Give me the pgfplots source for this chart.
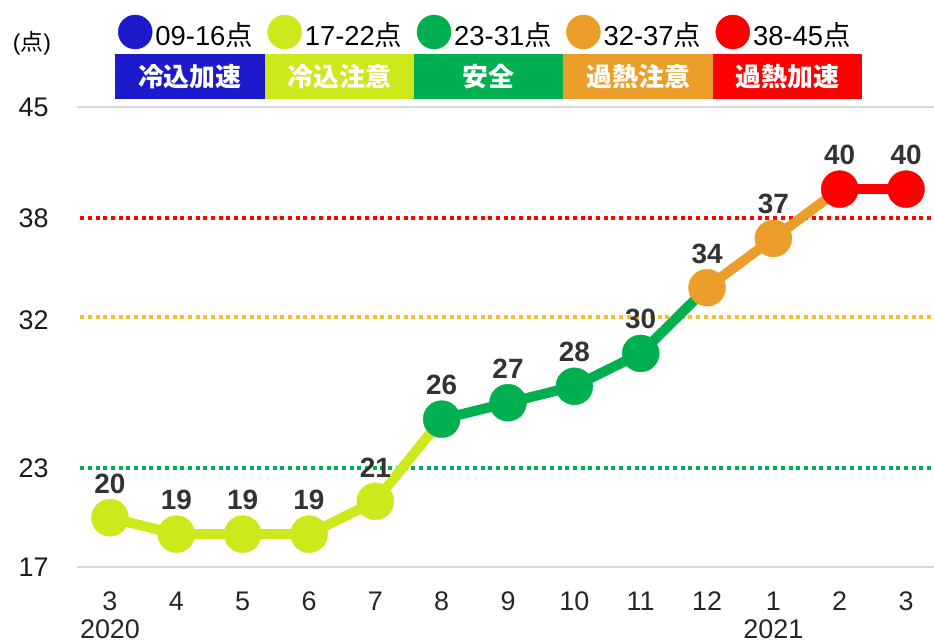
\documentclass[border=0pt]{standalone}
\usepackage{fontspec}
\setmainfont{Liberation Sans}
\newfontfamily\cjk{Noto Sans CJK JP}
\usepackage{pgfplots}
\pgfplotsset{compat=1.18}
\definecolor{cblue}{HTML}{1C1ACB}
\definecolor{cyg}{HTML}{CDE81B}
\definecolor{cgreen}{HTML}{00B050}
\definecolor{corange}{HTML}{EC9E2A}
\definecolor{cred}{HTML}{FF0000}
\definecolor{cgold}{HTML}{F8BE2C}
\definecolor{cgrid}{HTML}{D9D9D9}
\definecolor{clabel}{HTML}{333333}
\begin{document}
\begin{tikzpicture}[x=1bp,y=1bp]
\path[use as bounding box] (0,0) rectangle (934,644);
\begin{axis}[
  at={(76.8bp,77bp)}, anchor=south west,
  scale only axis, width=857.1bp, height=460bp,
  xmin=-0.5, xmax=12.42, ymin=17, ymax=45,
  clip=false,
  axis line style={draw=none},
  major tick length=0pt,
  ytick={17,23,32,38.24,45},
  yticklabels={17,23,32,38,45},
  xtick={0,...,12},
  xticklabels={{3\\2020},4,5,6,7,8,9,10,11,12,{1\\2021},2,3},
  xticklabel style={align=center, font=\fontsize{27}{28}\selectfont, text=black!85, inner sep=0pt, anchor=north, yshift=-25bp},
  yticklabel style={font=\fontsize{27}{30}\selectfont, text=black!90, inner sep=0pt, anchor=east, xshift=-28bp},
  /pgf/number format/assume math mode=true,
  legend columns=5,
  legend cell align=left,
  legend style={draw=none, fill=none, at={(0.0481,1.163)}, anchor=west, inner sep=0pt, outer sep=0pt, column sep=0pt,
     nodes={text width=109bp, inner xsep=3bp, inner ysep=0pt, font=\fontsize{27.5}{30}\selectfont}},
  legend image code/.code={\fill (17bp,2.5bp) circle[radius=17bp];},
  every node near coord/.append style={anchor=south, inner sep=0pt, yshift=24bp, text=clabel, font=\fontsize{28}{30}\selectfont\bfseries},
]
% reference lines
\addplot[cgrid, line width=2bp, forget plot] coordinates {(-0.5,45) (12.42,45)};
\addplot[cgrid, line width=2bp, forget plot] coordinates {(-0.5,17) (12.42,17)};
\addplot[cred, line width=4bp, dash pattern=on 4bp off 3.7bp, forget plot] coordinates {(-0.45,38.24) (12.42,38.24)};
\addplot[cgold, line width=4bp, dash pattern=on 4bp off 3.7bp, forget plot] coordinates {(-0.45,32.2) (12.42,32.2)};
\addplot[cgreen, line width=4bp, dash pattern=on 4bp off 3.7bp, forget plot] coordinates {(-0.45,23) (12.42,23)};
% line segments
\addplot[cyg, line width=10bp, no markers, forget plot] coordinates {(0,20)(1,19)(2,19)(3,19)(4,21)(5,26)};
\addplot[cgreen, line width=10bp, no markers, forget plot] coordinates {(5,26)(6,27)(7,28)(8,30)(9,34)};
\addplot[corange, line width=10bp, no markers, forget plot] coordinates {(9,34)(10,37)(11,40)};
\addplot[cred, line width=10bp, no markers, forget plot] coordinates {(11,40)(12,40)};
% markers
\addplot[only marks, mark=*, mark size=18.5bp, cyg, nodes near coords, forget plot] coordinates {(0,20)(1,19)(2,19)(3,19)(4,21)};
\addplot[only marks, mark=*, mark size=18.5bp, cgreen, nodes near coords, forget plot] coordinates {(5,26)(6,27)(7,28)(8,30)};
\addplot[only marks, mark=*, mark size=18.5bp, corange, nodes near coords, forget plot] coordinates {(9,34)(10,37)};
\addplot[only marks, mark=*, mark size=18.5bp, cred, nodes near coords, forget plot] coordinates {(11,40)(12,40)};
% legend
\addlegendimage{cblue}\addlegendentry{09-16{\cjk 点}}
\addlegendimage{cyg}\addlegendentry{17-22{\cjk 点}}
\addlegendimage{cgreen}\addlegendentry{23-31{\cjk 点}}
\addlegendimage{corange}\addlegendentry{32-37{\cjk 点}}
\addlegendimage{cred}\addlegendentry{38-45{\cjk 点}}
\end{axis}
\begin{scope}[every node/.style={minimum width=149.4bp, minimum height=45bp, inner sep=0pt, anchor=south west, text=white, font=\cjk\bfseries\fontsize{26}{26}\selectfont}]
\node[fill=cblue] at (115,545) {冷込加速};
\node[fill=cyg] at (264.4,545) {冷込注意};
\node[fill=cgreen] at (413.8,545) {安全};
\node[fill=corange] at (563.2,545) {過熱注意};
\node[fill=cred] at (712.6,545) {過熱加速};
\end{scope}
\node[font=\fontsize{23}{25}\selectfont, inner sep=0pt] at (32,601) {({\cjk 点})};
\end{tikzpicture}
\end{document}
